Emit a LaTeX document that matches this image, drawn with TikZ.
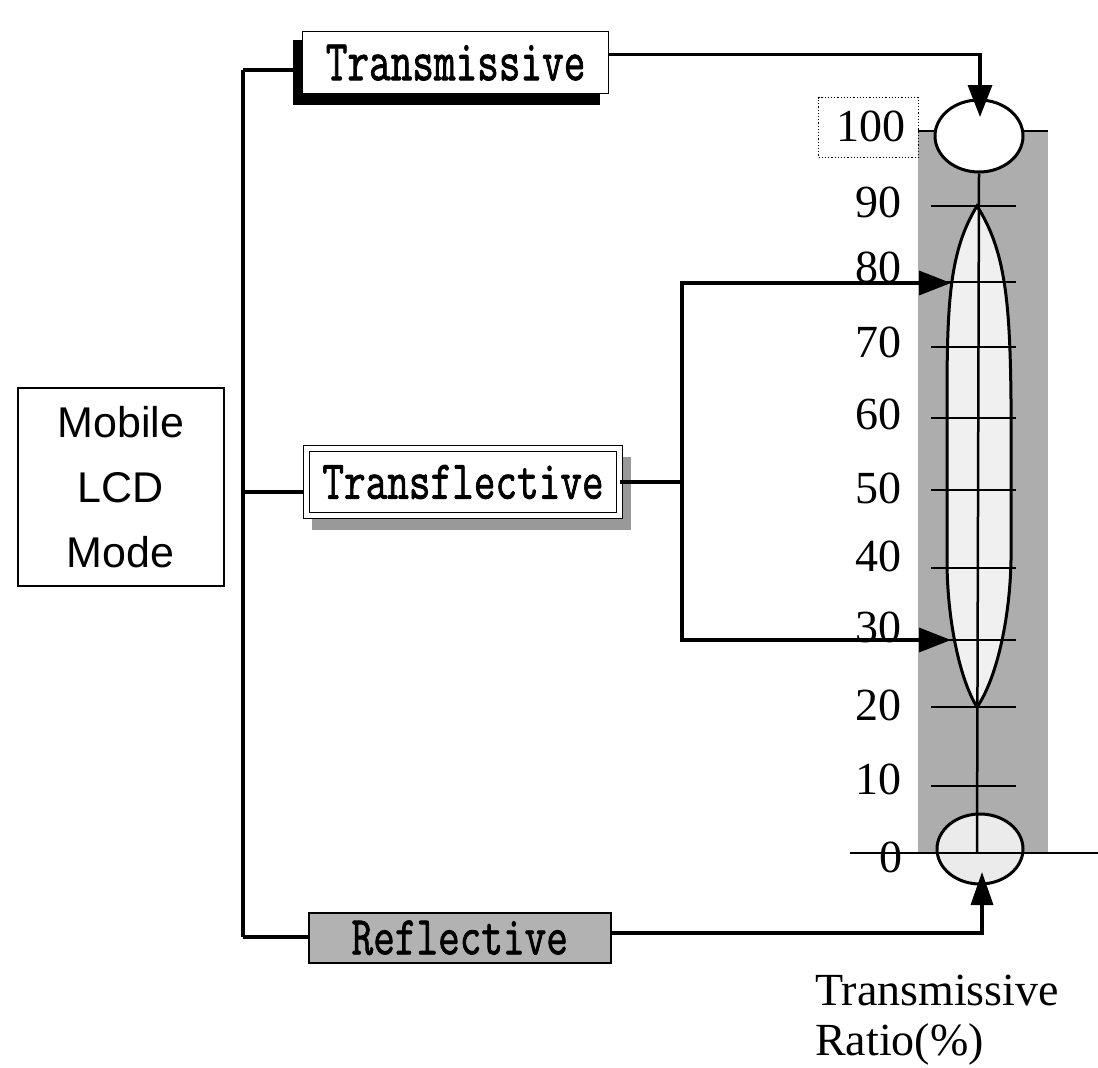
\documentclass[tikz,border=0pt]{standalone}
\usepackage{fontspec}
\setmainfont{Liberation Serif}
\newfontfamily\boxfont[FakeBold=1.6]{Latin Modern Mono}
\newfontfamily\sansf{Liberation Sans}
\usetikzlibrary{arrows.meta,shapes.geometric}
\begin{document}
\begin{tikzpicture}[x=1pt,y=-1pt,
  conn/.style={line width=3.5pt},
  arr/.style={conn,-{Triangle[length=32pt,width=24pt]}},
  tickline/.style={line width=2.5pt},
  num/.style={font=\fontsize{46}{46}\selectfont,anchor=east,inner sep=0pt},
  boxlabel/.style={font=\boxfont\fontsize{42}{44}\selectfont},
]
\useasboundingbox (0,0) rectangle (1098,1068);

% ---------- scale column ----------
\fill[black!32] (918,131) rectangle (1048,853);
\draw[line width=1.5pt] (918,131) -- (1048,131);
\node[ellipse,draw,fill=white,line width=3pt,minimum width=88pt,minimum height=72pt,inner sep=0pt] (topc) at (979,136) {};
\draw[line width=3pt,fill=black!6]
  (977,206) .. controls (950,250) and (947,300) .. (947,400)
  -- (947,560) .. controls (947,620) and (960,680) .. (977,707)
  .. controls (996,680) and (1010,620) .. (1011,560)
  -- (1011,400) .. controls (1010,300) and (1005,250) .. (977,206) -- cycle;
\foreach \yy in {206,282,347,418,490,568,640,707,786}
  \draw[tickline] (931,\yy) -- (1016,\yy);
\node[ellipse,draw,fill=black!8,line width=3pt,minimum width=86pt,minimum height=70pt,inner sep=0pt] (botc) at (980,849) {};
\draw[line width=2pt] (850,853) -- (1098,853);
\coordinate (zero) at (977,853);
\draw[line width=2.5pt] (topc.south) -- (zero);

% labels
\node[draw,dotted,line width=1.2pt,minimum width=100pt,minimum height=60pt,anchor=north west] (hbox) at (818,97) {};
\node[num] (l100) at (906,126) {100};
\node[num] (l90) at (902,202) {90};
\node[num] (l80) at (902,267) {80};
\node[num] (l70) at (902,342) {70};
\node[num] (l60) at (902,414) {60};
\node[num] (l50) at (902,488) {50};
\node[num] (l40) at (902,556) {40};
\node[num] (l30) at (902,627) {30};
\node[num] (l20) at (902,705) {20};
\node[num] (l10) at (902,779) {10};
\node[num] (l0) at (903,857) {0};
\node[font=\fontsize{46}{50}\selectfont,align=left,anchor=north west,inner sep=0pt] (ratio) at (815,975) {Transmissive\\Ratio(\%)};

% ---------- left tree ----------
\node[draw,line width=1.5pt,minimum width=206pt,minimum height=198pt,anchor=north west,align=center,
      font=\sansf\fontsize{43}{65}\selectfont] (mob) at (17,387) {Mobile\\LCD\\Mode};

\coordinate (trtop) at (243,70);
\coordinate (trmid) at (243,492);
\coordinate (trbot) at (243,937);
\draw[conn] (trtop) -- (trbot);
\draw[conn] (trtop) -- (300,70);
\draw[conn] (trmid) -- (306,492);
\draw[conn] (trbot) -- (310,937);

% Transmissive box
\fill[black] (293,40) rectangle (600,105);
\node[draw,fill=white,line width=1.2pt,minimum width=306pt,minimum height=62pt,anchor=north west,inner sep=0pt,boxlabel] (tm) at (302,31)
  {\scalebox{1}[1.38]{Transmissive}};

% Transflective box
\fill[black!40] (312,457) rectangle (631,530);
\node[draw,fill=white,line width=1.5pt,double=white,double distance=4.5pt,minimum width=313pt,minimum height=67pt,inner sep=0pt,boxlabel] (tf) at (463,482)
  {\scalebox{1}[1.3]{Transflective}};

% Reflective box
\node[draw,fill=black!30,line width=1.5pt,minimum width=302pt,minimum height=50pt,anchor=north west,inner sep=0pt,boxlabel] (rf) at (308,912)
  {\scalebox{1}[1.3]{Reflective}};

% ---------- arrows ----------
\coordinate (tip1) at (980,117);
\draw[arr] ([yshift=8pt]tm.east) -| (tip1);

\coordinate (j80) at (682,283);
\coordinate (j30) at (682,640);
\coordinate (a80) at (951,283);
\coordinate (a30) at (951,640);
\draw[conn] (tf.east) -- (tf.east -| j80);
\draw[conn,{Triangle[length=32pt,width=24pt]}-{Triangle[length=32pt,width=24pt]}] (a80) -- (j80) -- (j30) -- (a30);

\coordinate (tip0) at (982,872);
\draw[conn,-{Triangle[length=33pt,width=22pt]}] ([yshift=5pt]rf.east) -| (tip0);
\end{tikzpicture}
\end{document}
